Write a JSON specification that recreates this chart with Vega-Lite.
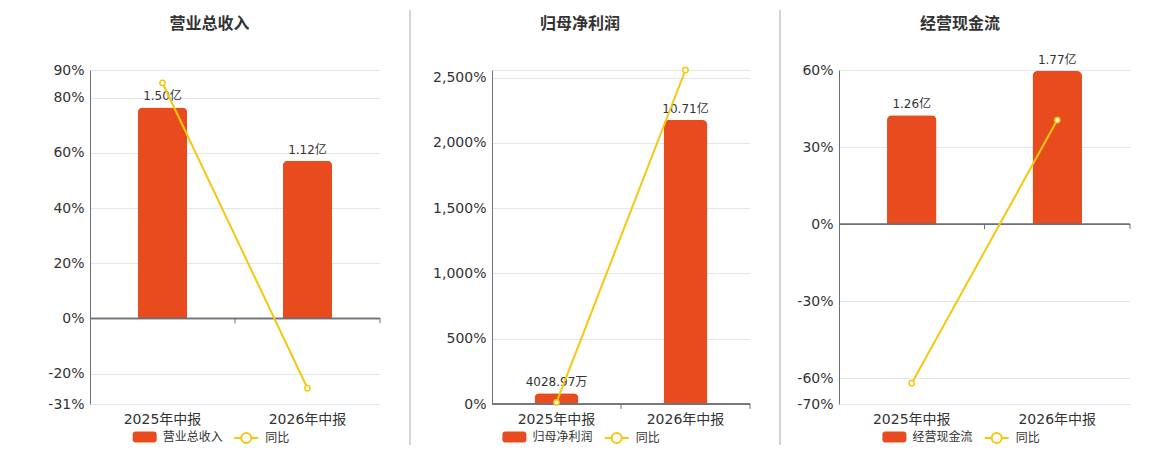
{
  "$schema": "https://vega.github.io/schema/vega-lite/v6.json",
  "padding": 0,
  "background": "white",
  "config": {"font": "DejaVu Sans, Noto Sans CJK SC", "view": {"stroke": null}},
  "bounds": "flush",
  "spacing": 0,
  "resolve": {"scale": {"fill": "independent", "stroke": "independent"}, "legend": {"fill": "independent", "stroke": "independent"}},
  "hconcat": [
    {
      "width": 90, "height": 334,
      "data": {"values": [{"k": 1}]},
      "mark": {"type": "rule", "opacity": 0},
      "encoding": {
        "x": {"datum": 0, "type": "quantitative", "scale": {"domain": [0, 90], "nice": false, "zero": false}, "axis": null},
        "y": {"datum": 404, "type": "quantitative", "scale": {"domain": [0, 334], "nice": false, "zero": false}, "axis": null},
        "y2": {"datum": -46}
      }
    },
    {
      "width": 290, "height": 334,
      "title": {"text": "营业总收入", "frame": "group", "anchor": "middle", "fontSize": 16, "fontWeight": "bold", "color": "#333", "baseline": "middle", "offset": 23, "dx": -25.5},
      "data": {"values": [
        {"period": "2025年中报", "amount": 1.50, "label": "1.50亿", "yoy": 85.3, "s": "营业总收入", "t": "同比"},
        {"period": "2026年中报", "amount": 1.12, "label": "1.12亿", "yoy": -25.3, "s": "营业总收入", "t": "同比"}
      ]},
      "resolve": {"scale": {"y": "independent"}},
      "layer": [
        {
          "mark": {"type": "bar", "cornerRadiusTopLeft": 5, "cornerRadiusTopRight": 5, "width": {"band": 0.34}},
          "encoding": {
            "x": {"field": "period", "type": "nominal", "sort": null, "scale": {"paddingInner": 0, "paddingOuter": 0}, "axis": {"title": null, "domain": false, "ticks": false, "grid": false, "labelAngle": 0, "labelFontSize": 14, "labelColor": "#333", "labelPadding": 8}},
            "y": {"field": "amount", "type": "quantitative", "scale": {"domain": [-0.6083, 1.766], "nice": false, "zero": false}, "axis": null},
            "fill": {"field": "s", "type": "nominal", "scale": {"range": ["#E84C1E"]}, "legend": {"orient": "none", "legendX": 42.7, "legendY": 355, "title": null, "padding": 0, "symbolType": "M-0.75,-0.46L0.75,-0.46Q1,-0.46 1,-0.21L1,0.21Q1,0.46 0.75,0.46L-0.75,0.46Q-1,0.46 -1,0.21L-1,-0.21Q-1,-0.46 -0.75,-0.46Z", "symbolSize": 576, "symbolStrokeWidth": 0, "labelFontSize": 12, "labelColor": "#333", "labelOffset": 6}}
          }
        },
        {
          "mark": {"type": "text", "baseline": "bottom", "dy": -4, "fontSize": 12, "color": "#333"},
          "encoding": {
            "x": {"field": "period", "type": "nominal", "sort": null},
            "y": {"field": "amount", "type": "quantitative", "scale": {"domain": [-0.6083, 1.766], "nice": false, "zero": false}, "axis": null},
            "text": {"field": "label"}
          }
        },
        {
          "mark": {"type": "rule", "color": "#6E7079", "strokeWidth": 1.5},
          "encoding": {
            "y": {"datum": 0, "type": "quantitative", "scale": {"domain": [-31, 90], "nice": false, "zero": false}, "axis": null}
          }
        },
        {
          "mark": {"type": "rule", "color": "#6E7079", "strokeWidth": 1},
          "encoding": {
            "x": {"field": "period", "type": "nominal", "sort": null, "bandPosition": 1},
            "y": {"datum": 0, "type": "quantitative", "scale": {"domain": [-31, 90], "nice": false, "zero": false}, "axis": null},
            "y2": {"datum": -1.8}
          }
        },
        {
          "mark": {"type": "line", "strokeWidth": 2, "point": {"filled": false, "fill": "white", "size": 28, "strokeWidth": 1.5}},
          "encoding": {
            "x": {"field": "period", "type": "nominal", "sort": null},
            "y": {"field": "yoy", "type": "quantitative", "scale": {"domain": [-31, 90], "nice": false, "zero": false}, "axis": {"orient": "left", "title": null, "values": [-31, -20, 0, 20, 40, 60, 80, 90], "labelExpr": "(datum.value < 0 ? '-' : '') + format(abs(datum.value), ',') + '%'", "grid": true, "gridColor": "#E0E6F1", "domain": true, "domainColor": "#6E7079", "ticks": false, "labelPadding": 6, "labelFontSize": 14, "labelColor": "#333"}},
            "stroke": {"field": "t", "type": "nominal", "scale": {"range": ["#F5C80F"]}, "legend": {"orient": "none", "legendX": 143.3, "legendY": 355, "title": null, "padding": 0, "symbolType": "M-1,0L-0.42,0M0.42,0L1,0M-0.42,0A0.42,0.42 0 1 1 0.42,0A0.42,0.42 0 1 1 -0.42,0", "symbolSize": 576, "symbolStrokeWidth": 2, "symbolFillColor": "white", "labelFontSize": 12, "labelColor": "#333", "labelOffset": 6, "encode": {"symbols": {"update": {"fill": {"value": "white"}}}}}}
          }
        }
      ]
    },
    {
      "width": 112, "height": 334,
      "data": {"values": [{"k": 1}]},
      "mark": {"type": "rule", "color": "#AAAAAA", "strokeWidth": 1},
      "encoding": {
        "x": {"datum": 30, "type": "quantitative", "scale": {"domain": [0, 112], "nice": false, "zero": false}, "axis": null},
        "y": {"datum": 394, "type": "quantitative", "scale": {"domain": [0, 334], "nice": false, "zero": false}, "axis": null},
        "y2": {"datum": -41}
      }
    },
    {
      "width": 258, "height": 334,
      "title": {"text": "归母净利润", "frame": "group", "anchor": "middle", "fontSize": 16, "fontWeight": "bold", "color": "#333", "baseline": "middle", "offset": 24, "dx": -41},
      "data": {"values": [
        {"period": "2025年中报", "amount": 0.402897, "label": "4028.97万", "yoy": 12, "s": "归母净利润", "t": "同比"},
        {"period": "2026年中报", "amount": 10.71, "label": "10.71亿", "yoy": 2558, "s": "归母净利润", "t": "同比"}
      ]},
      "resolve": {"scale": {"y": "independent"}},
      "layer": [
        {
          "mark": {"type": "bar", "cornerRadiusTopLeft": 5, "cornerRadiusTopRight": 5, "width": {"band": 0.34}},
          "encoding": {
            "x": {"field": "period", "type": "nominal", "sort": null, "scale": {"paddingInner": 0, "paddingOuter": 0}, "axis": {"title": null, "domain": false, "ticks": false, "grid": false, "labelAngle": 0, "labelFontSize": 14, "labelColor": "#333", "labelPadding": 8}},
            "y": {"field": "amount", "type": "quantitative", "scale": {"domain": [0, 12.594], "nice": false, "zero": false}, "axis": null},
            "fill": {"field": "s", "type": "nominal", "scale": {"range": ["#E84C1E"]}, "legend": {"orient": "none", "legendX": 10.4, "legendY": 355, "title": null, "padding": 0, "symbolType": "M-0.75,-0.46L0.75,-0.46Q1,-0.46 1,-0.21L1,0.21Q1,0.46 0.75,0.46L-0.75,0.46Q-1,0.46 -1,0.21L-1,-0.21Q-1,-0.46 -0.75,-0.46Z", "symbolSize": 576, "symbolStrokeWidth": 0, "labelFontSize": 12, "labelColor": "#333", "labelOffset": 6}}
          }
        },
        {
          "mark": {"type": "text", "baseline": "bottom", "dy": -4, "fontSize": 12, "color": "#333"},
          "encoding": {
            "x": {"field": "period", "type": "nominal", "sort": null},
            "y": {"field": "amount", "type": "quantitative", "scale": {"domain": [0, 12.594], "nice": false, "zero": false}, "axis": null},
            "text": {"field": "label"}
          }
        },
        {
          "mark": {"type": "rule", "color": "#6E7079", "strokeWidth": 1.5},
          "encoding": {
            "y": {"datum": 0, "type": "quantitative", "scale": {"domain": [0, 2558], "nice": false, "zero": false}, "axis": null}
          }
        },
        {
          "mark": {"type": "rule", "color": "#6E7079", "strokeWidth": 1},
          "encoding": {
            "x": {"field": "period", "type": "nominal", "sort": null, "bandPosition": 1},
            "y": {"datum": 0, "type": "quantitative", "scale": {"domain": [0, 2558], "nice": false, "zero": false}, "axis": null},
            "y2": {"datum": -38}
          }
        },
        {
          "mark": {"type": "line", "strokeWidth": 2, "point": {"filled": false, "fill": "white", "size": 28, "strokeWidth": 1.5}},
          "encoding": {
            "x": {"field": "period", "type": "nominal", "sort": null},
            "y": {"field": "yoy", "type": "quantitative", "scale": {"domain": [0, 2558], "nice": false, "zero": false}, "axis": {"orient": "left", "title": null, "values": [0, 500, 1000, 1500, 2000, 2500, 2558], "labelExpr": "datum.value > 2550 ? '' : (datum.value < 0 ? '-' : '') + format(abs(datum.value), ',') + '%'", "grid": true, "gridColor": "#E0E6F1", "domain": true, "domainColor": "#6E7079", "ticks": false, "labelPadding": 6, "labelFontSize": 14, "labelColor": "#333"}},
            "stroke": {"field": "t", "type": "nominal", "scale": {"range": ["#F5C80F"]}, "legend": {"orient": "none", "legendX": 111.7, "legendY": 355, "title": null, "padding": 0, "symbolType": "M-1,0L-0.42,0M0.42,0L1,0M-0.42,0A0.42,0.42 0 1 1 0.42,0A0.42,0.42 0 1 1 -0.42,0", "symbolSize": 576, "symbolStrokeWidth": 2, "symbolFillColor": "white", "labelFontSize": 12, "labelColor": "#333", "labelOffset": 6, "encode": {"symbols": {"update": {"fill": {"value": "white"}}}}}}
          }
        }
      ]
    },
    {
      "width": 89, "height": 334,
      "data": {"values": [{"k": 1}]},
      "mark": {"type": "rule", "color": "#AAAAAA", "strokeWidth": 1},
      "encoding": {
        "x": {"datum": 30, "type": "quantitative", "scale": {"domain": [0, 89], "nice": false, "zero": false}, "axis": null},
        "y": {"datum": 394, "type": "quantitative", "scale": {"domain": [0, 334], "nice": false, "zero": false}, "axis": null},
        "y2": {"datum": -41}
      }
    },
    {
      "width": 291, "height": 334,
      "title": {"text": "经营现金流", "frame": "group", "anchor": "middle", "fontSize": 16, "fontWeight": "bold", "color": "#333", "baseline": "middle", "offset": 14, "dx": -24.5},
      "data": {"values": [
        {"period": "2025年中报", "amount": 1.26, "label": "1.26亿", "yoy": -61.9, "s": "经营现金流", "t": "同比"},
        {"period": "2026年中报", "amount": 1.77, "label": "1.77亿", "yoy": 40.5, "s": "经营现金流", "t": "同比"}
      ]},
      "resolve": {"scale": {"y": "independent"}},
      "layer": [
        {
          "mark": {"type": "bar", "cornerRadiusTopLeft": 5, "cornerRadiusTopRight": 5, "width": {"band": 0.34}},
          "encoding": {
            "x": {"field": "period", "type": "nominal", "sort": null, "scale": {"paddingInner": 0, "paddingOuter": 0}, "axis": {"title": null, "domain": false, "ticks": false, "grid": false, "labelAngle": 0, "labelFontSize": 14, "labelColor": "#333", "labelPadding": 8}},
            "y": {"field": "amount", "type": "quantitative", "scale": {"domain": [-2.081, 1.783], "nice": false, "zero": false}, "axis": null},
            "fill": {"field": "s", "type": "nominal", "scale": {"range": ["#E84C1E"]}, "legend": {"orient": "none", "legendX": 43.4, "legendY": 355, "title": null, "padding": 0, "symbolType": "M-0.75,-0.46L0.75,-0.46Q1,-0.46 1,-0.21L1,0.21Q1,0.46 0.75,0.46L-0.75,0.46Q-1,0.46 -1,0.21L-1,-0.21Q-1,-0.46 -0.75,-0.46Z", "symbolSize": 576, "symbolStrokeWidth": 0, "labelFontSize": 12, "labelColor": "#333", "labelOffset": 6}}
          }
        },
        {
          "mark": {"type": "text", "baseline": "bottom", "dy": -4, "fontSize": 12, "color": "#333"},
          "encoding": {
            "x": {"field": "period", "type": "nominal", "sort": null},
            "y": {"field": "amount", "type": "quantitative", "scale": {"domain": [-2.081, 1.783], "nice": false, "zero": false}, "axis": null},
            "text": {"field": "label"}
          }
        },
        {
          "mark": {"type": "rule", "color": "#6E7079", "strokeWidth": 1.5},
          "encoding": {
            "y": {"datum": 0, "type": "quantitative", "scale": {"domain": [-70, 60], "nice": false, "zero": false}, "axis": null}
          }
        },
        {
          "mark": {"type": "rule", "color": "#6E7079", "strokeWidth": 1},
          "encoding": {
            "x": {"field": "period", "type": "nominal", "sort": null, "bandPosition": 1},
            "y": {"datum": 0, "type": "quantitative", "scale": {"domain": [-70, 60], "nice": false, "zero": false}, "axis": null},
            "y2": {"datum": -1.95}
          }
        },
        {
          "mark": {"type": "line", "strokeWidth": 2, "point": {"filled": false, "fill": "white", "size": 28, "strokeWidth": 1.5}},
          "encoding": {
            "x": {"field": "period", "type": "nominal", "sort": null},
            "y": {"field": "yoy", "type": "quantitative", "scale": {"domain": [-70, 60], "nice": false, "zero": false}, "axis": {"orient": "left", "title": null, "values": [-70, -60, -30, 0, 30, 60], "labelExpr": "(datum.value < 0 ? '-' : '') + format(abs(datum.value), ',') + '%'", "grid": true, "gridColor": "#E0E6F1", "domain": true, "domainColor": "#6E7079", "ticks": false, "labelPadding": 6, "labelFontSize": 14, "labelColor": "#333"}},
            "stroke": {"field": "t", "type": "nominal", "scale": {"range": ["#F5C80F"]}, "legend": {"orient": "none", "legendX": 144.7, "legendY": 355, "title": null, "padding": 0, "symbolType": "M-1,0L-0.42,0M0.42,0L1,0M-0.42,0A0.42,0.42 0 1 1 0.42,0A0.42,0.42 0 1 1 -0.42,0", "symbolSize": 576, "symbolStrokeWidth": 2, "symbolFillColor": "white", "labelFontSize": 12, "labelColor": "#333", "labelOffset": 6, "encode": {"symbols": {"update": {"fill": {"value": "white"}}}}}}
          }
        }
      ]
    }
  ]
}
